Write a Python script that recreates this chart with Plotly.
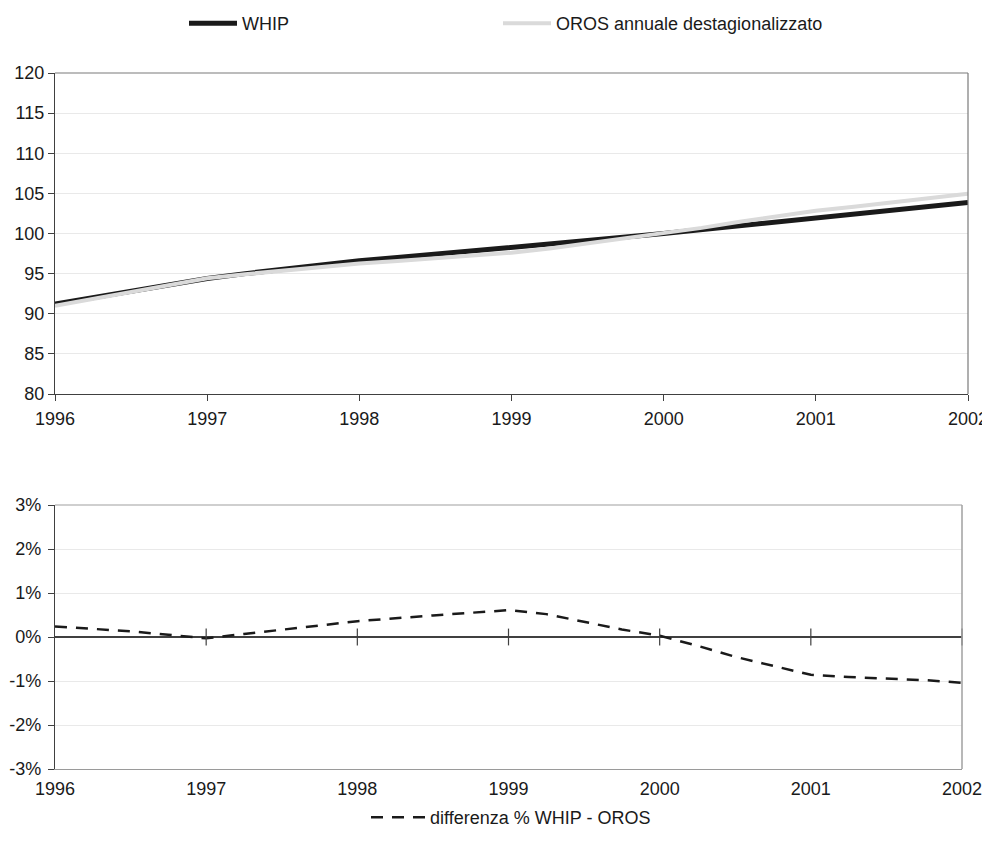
import plotly.graph_objects as go

# ---- data ----
quarters = [1996.0, 1996.25, 1996.5, 1996.75,
            1997.0, 1997.25, 1997.5, 1997.75,
            1998.0, 1998.25, 1998.5, 1998.75,
            1999.0, 1999.25, 1999.5, 1999.75,
            2000.0, 2000.25, 2000.5, 2000.75,
            2001.0, 2001.25, 2001.5, 2001.75,
            2002.0]

whip = [91.20, 91.98, 92.80, 93.60,
        94.40, 95.00, 95.55, 96.10,
        96.60, 97.00, 97.40, 97.80,
        98.20, 98.65, 99.10, 99.55,
        100.00, 100.50, 101.00, 101.50,
        101.95, 102.40, 102.90, 103.35,
        103.85]

oros = [90.98, 91.82, 92.68, 93.55,
        94.43, 94.93, 95.40, 95.85,
        96.25, 96.58, 96.92, 97.27,
        97.60, 98.14, 98.76, 99.38,
        99.97, 100.70, 101.46, 102.16,
        102.83, 103.34, 103.88, 104.37,
        104.94]

diff_pct = [0.0024, 0.0018, 0.0013, 0.0005,
            -0.0003, 0.0007, 0.0016, 0.0026,
            0.0036, 0.0043, 0.0049, 0.0055,
            0.0061, 0.0052, 0.0034, 0.0017,
            0.0003, -0.0020, -0.0045, -0.0065,
            -0.0086, -0.0091, -0.0094, -0.0098,
            -0.0104]

years = [1996, 1997, 1998, 1999, 2000, 2001, 2002]
year_labels = ["1996", "1997", "1998", "1999", "2000", "2001", "2002"]

top_ticks = [80, 85, 90, 95, 100, 105, 110, 115, 120]
pct_ticks = [-0.03, -0.02, -0.01, 0.0, 0.01, 0.02, 0.03]
pct_labels = ["-3%", "-2%", "-1%", "0%", "1%", "2%", "3%"]

name_whip = "WHIP"
name_oros = "OROS annuale destagionalizzato"
name_diff = "differenza % WHIP - OROS"

# ---- figure ----
FONT = "Liberation Sans, Arial, sans-serif"
TXT = "#1a1a1a"
AX = "#404040"
GRID = "#e9e9e9"

fig = go.Figure()

fig.add_trace(go.Scatter(
    x=quarters, y=whip, mode="lines", name=name_whip,
    line=dict(color="#1a1a1a", width=5),
    xaxis="x", yaxis="y", legend="legend"))
fig.add_trace(go.Scatter(
    x=quarters, y=oros, mode="lines", name=name_oros,
    line=dict(color="#dadada", width=4),
    xaxis="x", yaxis="y", legend="legend3"))

fig.add_trace(go.Scatter(
    x=quarters, y=diff_pct, mode="lines", name=name_diff,
    line=dict(color="#1a1a1a", width=2.5, dash="12px,9px"),
    xaxis="x2", yaxis="y2", legend="legend2"))

# tick marks crossing the zero line of the lower chart
fig.add_trace(go.Scatter(
    x=years[1:], y=[0] * (len(years) - 1), mode="markers",
    marker=dict(symbol="line-ns-open", size=12,
                line=dict(color=AX, width=1.2), color=AX),
    showlegend=False, hoverinfo="skip", cliponaxis=False,
    xaxis="x2", yaxis="y2"))

# page body adds an 8px offset; work in screen pixels and convert
OFF = 8
W, H = 990 - OFF, 825
L, R, T, B = 55, 968, 73, 769            # screen coords of full plot block
ml, mt = L - OFF, T - OFF
mr = W - (R - OFF)
mb = H - (B - OFF)
ph = H - mt - mb
pw = W - ml - mr
top_bottom = (B - 394) / ph
bot_top = (B - 505) / ph
bot_right = (962 - L) / pw


def px_x(sx):
    return (sx - L) / pw


def px_y(sy):
    return (B - sy) / ph


tickfont = dict(family=FONT, size=18, color=TXT)
legfont = dict(family=FONT, size=18, color=TXT)

fig.update_layout(
    width=W, height=H,
    margin=dict(l=ml, r=mr, t=mt, b=mb, autoexpand=False),
    paper_bgcolor="white", plot_bgcolor="white",
    font=dict(family=FONT, size=18, color=TXT),
    showlegend=True,
    xaxis=dict(domain=[0, 1], anchor="y", range=[1996, 2002],
               tickmode="array", tickvals=years, ticktext=year_labels,
               ticks="outside", ticklen=6, tickcolor=AX, tickwidth=1,
               showline=True, linecolor=AX, linewidth=1.2,
               showgrid=False, zeroline=False, tickfont=tickfont,
               ticklabelstandoff=2, automargin=False),
    yaxis=dict(domain=[top_bottom, 1], anchor="x", range=[80, 120],
               tickmode="array", tickvals=top_ticks,
               ticks="outside", ticklen=6, tickcolor=AX, tickwidth=1,
               showline=True, linecolor=AX, linewidth=1.2,
               showgrid=True, gridcolor=GRID, gridwidth=1.2,
               zeroline=False, tickfont=tickfont, ticklabelstandoff=0,
               automargin=False),
    xaxis2=dict(domain=[0, bot_right], anchor="y2", range=[1996, 2002],
                tickmode="array", tickvals=years, ticktext=year_labels,
                ticks="", showline=True, linecolor="#9a9a9a", linewidth=1.2,
                showgrid=False, zeroline=False, tickfont=tickfont,
                ticklabelstandoff=3, automargin=False),
    yaxis2=dict(domain=[0, bot_top], anchor="x2", range=[-0.03, 0.03],
                tickmode="array", tickvals=pct_ticks, ticktext=pct_labels,
                ticks="outside", ticklen=6, tickcolor=AX, tickwidth=1,
                showline=True, linecolor=AX, linewidth=1.2,
                showgrid=True, gridcolor=GRID, gridwidth=1.2,
                zeroline=True, zerolinecolor=AX, zerolinewidth=1.5,
                tickfont=tickfont, ticklabelstandoff=3, automargin=False),
    legend=dict(orientation="h", x=px_x(184), xanchor="left",
                y=px_y(5), yanchor="top",
                itemwidth=48, bgcolor="rgba(0,0,0,0)", font=legfont),
    legend3=dict(orientation="h", x=px_x(498), xanchor="left",
                 y=px_y(5), yanchor="top",
                 itemwidth=48, bgcolor="rgba(0,0,0,0)", font=legfont),
    legend2=dict(orientation="h", x=px_x(366), xanchor="left",
                 y=px_y(799), yanchor="top",
                 itemwidth=54, bgcolor="rgba(0,0,0,0)", font=legfont),
    shapes=[
        dict(type="line", xref="x domain", yref="y domain",
             x0=0, x1=1, y0=1, y1=1, line=dict(color="#7a7a7a", width=1.2)),
        dict(type="line", xref="x domain", yref="y domain",
             x0=1, x1=1, y0=0, y1=1, line=dict(color="#7a7a7a", width=1.2)),
        dict(type="line", xref="x2 domain", yref="y2 domain",
             x0=1, x1=1, y0=0, y1=1, line=dict(color="#a0a0a0", width=1.5)),
        dict(type="line", xref="x2 domain", yref="y2 domain",
             x0=0, x1=1, y0=1, y1=1, line=dict(color="#a0a0a0", width=1.2)),
    ],
)

fig.write_html("out.html")
